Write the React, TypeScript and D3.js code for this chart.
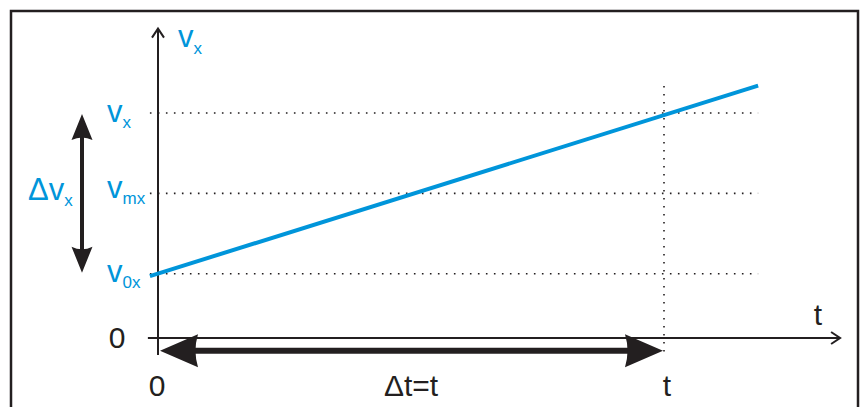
import React from "react";
import * as d3 from "d3";

// time positions (in units of t)
const tTickValues = [0, 1];
const tTickLabels = ["0", "t"];

// velocity levels marked on the vertical axis
const vLevelValues = [0.8, 1.8, 2.8];
const vLevelSubs = ["0x", "mx", "x"];

// the v_x(t) line, two end points
const lineT = [-0.016, 1.186];
const lineV = [0.77, 3.14];

const BLUE = "#0095da";
const INK = "#231f20";
const FONT = "'Liberation Sans', Arial, sans-serif";

const App: React.FC = () => {
  const width = 860;
  const height = 407;

  const x = d3.scaleLinear().domain([0, 1]).range([158, 664]);
  const y = d3.scaleLinear().domain([0, 2.8]).range([338, 113]);

  const line = d3
    .line<number>()
    .x((_, i) => x(lineT[i]))
    .y((d) => y(d));

  // thick double headed arrow (horizontal or vertical)
  const heavyArrow = (
    x1: number,
    y1: number,
    x2: number,
    y2: number,
    len: number,
    half: number,
    shaft: number
  ) => {
    const dx = x2 - x1;
    const dy = y2 - y1;
    const L = Math.hypot(dx, dy);
    const ux = dx / L;
    const uy = dy / L;
    const nx = -uy;
    const ny = ux;
    const head = (tx: number, ty: number, dir: number) => {
      const bx = tx - dir * ux * len;
      const by = ty - dir * uy * len;
      const notchX = tx - dir * ux * (len - 5);
      const notchY = ty - dir * uy * (len - 5);
      return `M${tx},${ty} L${bx + nx * half},${by + ny * half} Q${notchX},${notchY} ${bx - nx * half},${by - ny * half} Z`;
    };
    return (
      <g fill={INK} stroke="none">
        <line
          x1={x1 + ux * (len - 6)}
          y1={y1 + uy * (len - 6)}
          x2={x2 - ux * (len - 6)}
          y2={y2 - uy * (len - 6)}
          stroke={INK}
          strokeWidth={shaft}
        />
        <path d={head(x1, y1, -1)} />
        <path d={head(x2, y2, 1)} />
      </g>
    );
  };

  const gridX0 = x(lineT[0]);
  const gridX1 = x(lineT[1]);
  const labelDy = [8, 5, 9];

  return (
    <svg
      width={width}
      height={height}
      style={{ position: "absolute", left: 0, top: 0, background: "#fff" }}
      fontFamily={FONT}
    >
      {/* frame */}
      <rect x={11} y={11} width={847} height={420} fill="none" stroke={INK} strokeWidth={2.5} />

      {/* dotted guide lines */}
      {vLevelValues.map((v, i) => (
        <line
          key={`h${i}`}
          x1={gridX0}
          x2={gridX1}
          y1={y(v)}
          y2={y(v)}
          stroke={INK}
          strokeWidth={1.6}
          strokeDasharray="1.6 6.4"
        />
      ))}
      <line
        x1={x(1)}
        x2={x(1)}
        y1={y(3.136)}
        y2={y(-0.21)}
        stroke={INK}
        strokeWidth={1.6}
        strokeDasharray="1.6 6.4"
      />

      {/* axes */}
      <line x1={x(0)} x2={x(0)} y1={y(-0.21)} y2={y(3.85)} stroke={INK} strokeWidth={2} />
      <path
        d={`M${x(0) - 6},${y(3.85) + 9} L${x(0)},${y(3.85)} L${x(0) + 6},${y(3.85) + 9}`}
        fill="none"
        stroke={INK}
        strokeWidth={2}
      />
      <line x1={x(-0.02)} x2={x(1.348)} y1={y(0)} y2={y(0)} stroke={INK} strokeWidth={2} />
      <path
        d={`M${x(1.348) - 9},${y(0) - 6} L${x(1.348)},${y(0)} L${x(1.348) - 9},${y(0) + 6}`}
        fill="none"
        stroke={INK}
        strokeWidth={2}
      />

      {/* v_x(t) */}
      <path d={line(lineV) ?? ""} fill="none" stroke={BLUE} strokeWidth={4} />

      {/* Δt arrow */}
      {heavyArrow(x(0) + 2, y(-0.16), x(1) - 1, y(-0.16), 38, 16.5, 6)}
      {/* Δv arrow */}
      {heavyArrow(82, y(vLevelValues[2]) + 1, 82, y(vLevelValues[0]) - 1, 26, 10.5, 4)}

      {/* velocity level labels */}
      {vLevelValues.map((v, i) => (
        <text key={`l${i}`} x={107} y={y(v) + labelDy[i]} fill={BLUE} fontSize={31}>
          v
          <tspan fontSize={17} dy={6}>
            {vLevelSubs[i]}
          </tspan>
        </text>
      ))}
      <text x={28} y={200} fill={BLUE} fontSize={31}>
        Δv
        <tspan fontSize={17} dy={6}>
          x
        </tspan>
      </text>

      {/* axis titles */}
      <text x={178} y={47} fill={BLUE} fontSize={31}>
        v
        <tspan fontSize={17} dy={7}>
          x
        </tspan>
      </text>
      <text x={818} y={325} fill={INK} fontSize={30} textAnchor="middle">
        t
      </text>
      <text x={117} y={y(0) + 10} fill={INK} fontSize={30} textAnchor="middle">
        0
      </text>

      {/* time tick labels */}
      {tTickValues.map((t, i) => (
        <text key={`t${i}`} x={x(t) + (i === 0 ? -1 : 3)} y={396} fill={INK} fontSize={30} textAnchor="middle">
          {tTickLabels[i]}
        </text>
      ))}
      <text x={411} y={396} fill={INK} fontSize={30} textAnchor="middle">
        Δt=t
      </text>
    </svg>
  );
};

export default App;
